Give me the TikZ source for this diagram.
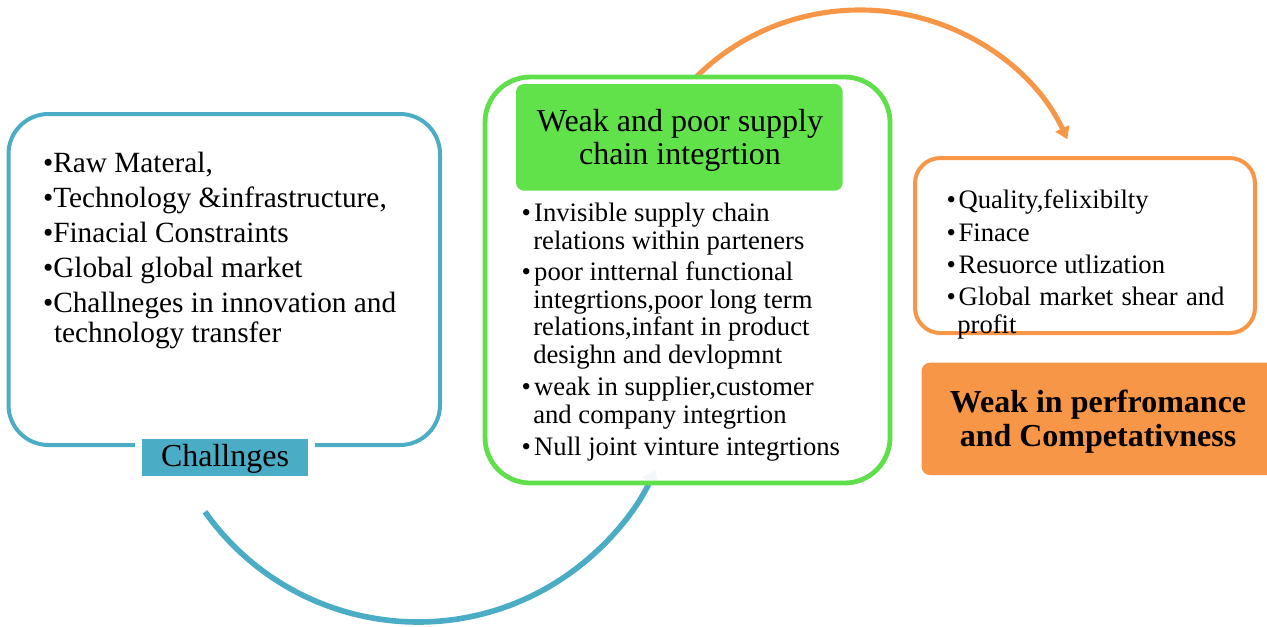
\documentclass[tikz,border=0pt]{standalone}
\usepackage{fontspec}
\setmainfont{Liberation Serif}
\usetikzlibrary{arrows.meta}
\definecolor{cblue}{HTML}{4BACC6}
\definecolor{cgreen}{HTML}{5FE04B}
\definecolor{chead}{HTML}{62E24A}
\definecolor{corange}{HTML}{F79646}
\begin{document}
\begin{tikzpicture}[x=0.75pt,y=0.75pt,
  ln/.style={anchor=base west, inner sep=0pt, outer sep=0pt},
  lnl/.style={ln, font=\fontsize{22}{26}\selectfont},
  lnm/.style={ln, font=\fontsize{20}{24}\selectfont},
  ttl/.style={anchor=base, inner sep=0pt, outer sep=0pt, font=\fontsize{24}{28}\selectfont},
  panel/.style={line width=3pt, fill=white, fill opacity=0.93, rounded corners=#1},
  flow/.style={line width=4.2pt, line cap=butt},
]
\useasboundingbox (0,0) rectangle (1267,-626);

% flow arcs, drawn beneath the panels
\coordinate (bstart) at (205,-511.8);
\coordinate (ostart) at (695.3,-77.9);
\draw[flow, cblue, -{Triangle[length=10pt,width=12pt]}]
  (bstart) arc[start angle=215.3, end angle=335.5, radius=261];
\draw[flow, corange, line width=3.8pt, -{Triangle[length=9pt,width=11pt]}]
  (ostart) arc[start angle=136.5, end angle=24, x radius=227, y radius=218];

% left panel: challenges
\draw[panel=30pt, draw=cblue] (8.5,-114) rectangle (440,-445);
\fill[white] (135,-432) rectangle (315,-482);
\fill[cblue] (141.7,-439.3) rectangle (308.3,-476);
\node[ttl] (chal) at (225,-466.7) {Challnges};

\node[lnl] (l1) at (43,-172) {•Raw Materal,};
\node[lnl] (l2) at (43,-207) {•Technology \&infrastructure,};
\node[lnl] (l3) at (43,-242) {•Finacial Constraints};
\node[lnl] (l4) at (43,-277) {•Global global market};
\node[lnl] (l5) at (43,-312) {•Challneges in innovation and};
\node[lnl] (l6) at (54,-342.5) {technology transfer};

% middle panel: integration
\draw[panel=34pt, draw=cgreen, line width=3.6pt] (485,-77) rectangle (890,-483);
\fill[chead, rounded corners=6pt] (516,-84) rectangle (842.7,-190.7);
\node[ttl] (t1) at (680,-131.7) {Weak and poor supply};
\node[ttl] (t2) at (680,-164) {chain integrtion};

\node[lnm] (m1) at (521.5,-221.5) {•\hspace{2.5pt}Invisible supply chain};
\node[lnm] (m2) at (533.3,-249.5) {relations within parteners};
\node[lnm] (m3) at (521.5,-280.5) {•\hspace{2.5pt}poor intternal functional};
\node[lnm] (m4) at (533.3,-308.5) {integrtions,poor long term};
\node[lnm] (m5) at (533.3,-335.5) {relations,infant in product};
\node[lnm] (m6) at (533.3,-363) {desighn and devlopmnt};
\node[lnm] (m7) at (521.5,-395) {•\hspace{2.5pt}weak in supplier,customer};
\node[lnm] (m8) at (533.3,-423) {and company integrtion};
\node[lnm] (m9) at (521.5,-455.5) {•\hspace{2.5pt}Null joint vinture integrtions};

% right panel: performance
\draw[panel=19pt, draw=corange] (915,-158) rectangle (1255,-333);
\node[lnm] (r1) at (946.5,-208.3) {•\hspace{2pt}Quality,felixibilty};
\node[lnm] (r2) at (946.5,-241.5) {•\hspace{2pt}Finace};
\node[lnm] (r3) at (946.5,-273.5) {•\hspace{2pt}Resuorce utlization};
\node[lnm] (r4) at (946.5,-305.7) {•\hspace{2pt}\makebox[199.5pt][s]{Global market shear and}};
\node[lnm] (r5) at (957.3,-333.5) {profit};

\fill[corange, rounded corners=6pt] (921.7,-362.7) rectangle (1280,-475);
\node[ttl, font=\fontsize{24}{28}\selectfont\bfseries] (b1) at (1098,-412.7) {Weak in perfromance};
\node[ttl, font=\fontsize{24}{28}\selectfont\bfseries] (b2) at (1098,-446) {and Competativness};
\end{tikzpicture}
\end{document}
